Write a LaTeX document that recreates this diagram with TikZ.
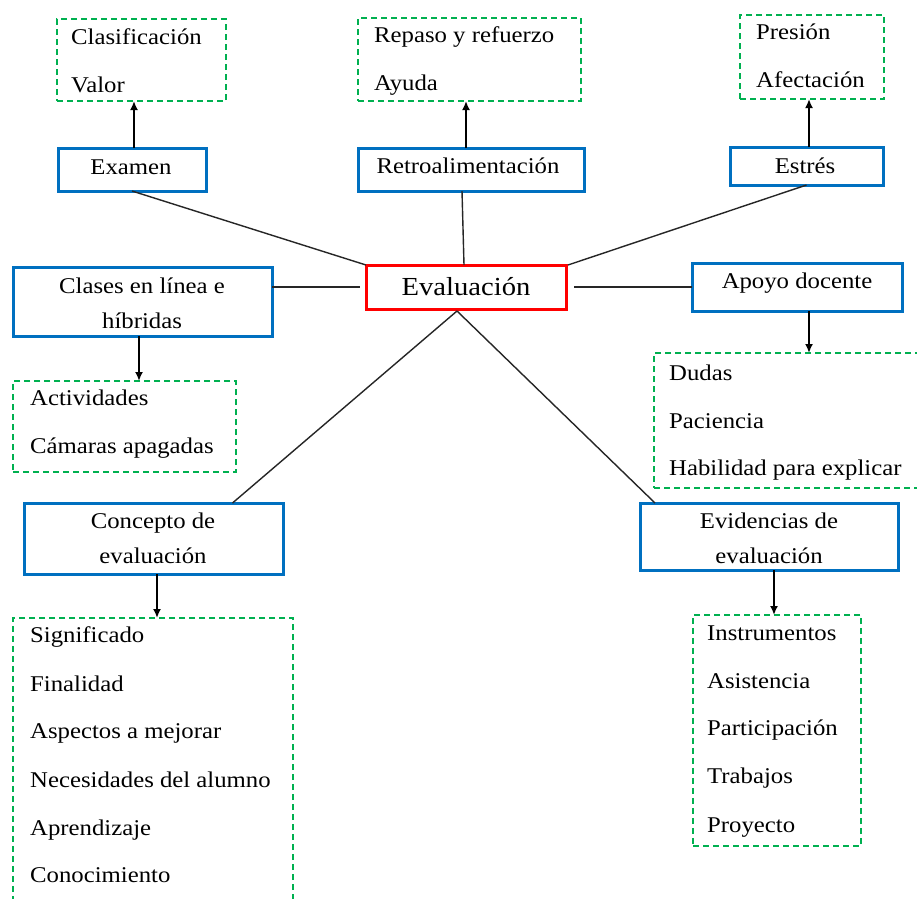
\documentclass[tikz,border=0pt]{standalone}
\usepackage{fontspec}
\setmainfont[FakeStretch=1.1]{Liberation Serif}
\usetikzlibrary{arrows.meta,calc}
\definecolor{bblue}{RGB}{0,112,192}
\definecolor{rred}{RGB}{255,0,0}
\definecolor{ggreen}{RGB}{0,176,80}
\begin{document}
\begin{tikzpicture}[x=1pt,y=-1pt,
  box/.style={rectangle,inner sep=0pt,outer sep=0pt},
  bluebox/.style={box,draw=bblue,line width=3pt},
  redbox/.style={box,draw=rred,line width=3pt},
  greenbox/.style={box,draw=ggreen,line width=1.4pt,dash pattern=on 6pt off 4pt},
  txt/.style={inner sep=0pt,anchor=base,font=\fontsize{22.5}{27}\selectfont},
  ltxt/.style={txt,anchor=base west},
  conn/.style={draw=black!85,line width=1.4pt},
  arr/.style={draw=black,line width=2pt,-{Latex[length=9pt,width=8pt]}}
]
\useasboundingbox (0,0) rectangle (917,898);
\fill[white] (0,0) rectangle (917,898);

% boxes
\node[greenbox,minimum width=169,minimum height=82] (clasif) at (141.5,60) {};
\node[bluebox,minimum width=148,minimum height=43] (examen) at (132,169.5) {};
\node[greenbox,minimum width=223,minimum height=83] (repaso) at (469.5,59.5) {};
\node[bluebox,minimum width=226,minimum height=43] (retro) at (471,169.5) {};
\node[greenbox,minimum width=144,minimum height=84] (presion) at (812,57) {};
\node[bluebox,minimum width=153,minimum height=38] (estres) at (806.5,166) {};
\node[redbox,minimum width=200,minimum height=44] (eval) at (466,287) {};
\node[bluebox,minimum width=259,minimum height=69] (clases) at (142.5,301.5) {};
\node[bluebox,minimum width=210,minimum height=48] (apoyo) at (797,287) {};
\node[greenbox,minimum width=271,minimum height=135] (dudas) at (789.5,420.5) {};
\node[greenbox,minimum width=223,minimum height=91] (activ) at (124.5,426.5) {};
\node[bluebox,minimum width=259,minimum height=71] (concepto) at (153.5,538.5) {};
\node[bluebox,minimum width=258,minimum height=67] (evid) at (769,536.5) {};
\node[greenbox,minimum width=280,minimum height=292] (signif) at (153,764) {};
\node[greenbox,minimum width=168,minimum height=231] (instr) at (777,730.5) {};

% texts
\node[ltxt] (t1) at (71,44) {Clasificación};
\node[ltxt] (t2) at (71,92) {Valor};
\node[txt] (t3) at (131,174) {Examen};
\node[ltxt] (t4) at (374,42) {Repaso y refuerzo};
\node[ltxt] (t5) at (374,90) {Ayuda};
\node[txt] (t6) at (468,173) {Retroalimentación};
\node[ltxt] (t7) at (756,39) {Presión};
\node[ltxt] (t8) at (756,87) {Afectación};
\node[txt] (t9) at (805,173) {Estrés};
\node[txt,font=\fontsize{26}{30}\selectfont] (t10) at (466,295) {Evaluación};
\node[txt] (t11) at (142,293) {Clases en línea e};
\node[txt] (t12) at (142,328) {híbridas};
\node[txt] (t13) at (797,288) {Apoyo docente};
\node[ltxt] (t14) at (669,380) {Dudas};
\node[ltxt] (t15) at (669,428) {Paciencia};
\node[ltxt] (t16) at (669,475) {Habilidad para explicar};
\node[ltxt] (t17) at (30,405) {Actividades};
\node[ltxt] (t18) at (30,453) {Cámaras apagadas};
\node[txt] (t19) at (153,528) {Concepto de};
\node[txt] (t20) at (153,563) {evaluación};
\node[txt] (t21) at (769,528) {Evidencias de};
\node[txt] (t22) at (769,563) {evaluación};
\node[ltxt] (t23) at (30,642) {Significado};
\node[ltxt] (t24) at (30,691) {Finalidad};
\node[ltxt] (t25) at (30,738) {Aspectos a mejorar};
\node[ltxt] (t26) at (30,787) {Necesidades del alumno};
\node[ltxt] (t27) at (30,835) {Aprendizaje};
\node[ltxt] (t28) at (30,882) {Conocimiento};
\node[ltxt] (t29) at (707,640) {Instrumentos};
\node[ltxt] (t30) at (707,688) {Asistencia};
\node[ltxt] (t31) at (707,735) {Participación};
\node[ltxt] (t32) at (707,783) {Trabajos};
\node[ltxt] (t33) at (707,832) {Proyecto};

% connectors
\draw[conn] (examen.south) -- (eval.north west);
\draw[conn] ($(retro.south)+(-9,0)$) -- ($(eval.north)+(-2,0)$);
\draw[conn] (estres.south) -- ($(eval.north east)+(2,0)$);
\draw[conn] (eval.west -| clases.east) -- ($(eval.west)+(-6,0)$);
\draw[conn] ($(eval.east)+(8,0)$) -- (apoyo.west);
\coordinate (evb) at ($(eval.south)+(-9,2)$);
\draw[conn] (evb) -- ($(concepto.north)+(79,0)$);
\draw[conn] (evb) -- ($(evid.north west)+(15,0)$);

% arrows
\coordinate (a1) at ($(examen.north)+(2,0)$);
\coordinate (a2) at ($(retro.north)+(-5,0)$);
\coordinate (a3) at ($(estres.north)+(2.5,0)$);
\coordinate (a4) at ($(apoyo.south)+(12,0)$);
\coordinate (a5) at ($(clases.south)+(-3.5,0)$);
\coordinate (a6) at ($(concepto.south)+(3.5,0)$);
\coordinate (a7) at ($(evid.south)+(5,0)$);
\draw[arr] (a1) -- (a1 |- clasif.south);
\draw[arr] (a2) -- (a2 |- repaso.south);
\draw[arr] (a3) -- (a3 |- presion.south);
\draw[arr] (a4) -- (a4 |- dudas.north);
\draw[arr] (a5) -- (a5 |- activ.north);
\draw[arr] (a6) -- (a6 |- signif.north);
\draw[arr] (a7) -- (a7 |- instr.north);
\end{tikzpicture}
\end{document}
